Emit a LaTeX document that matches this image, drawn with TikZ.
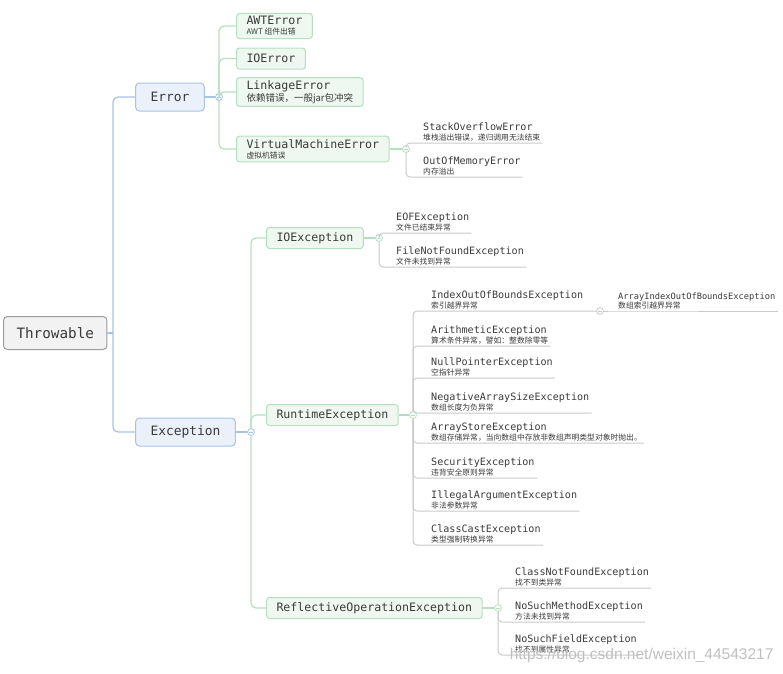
\documentclass[tikz,border=0pt]{standalone}
\usepackage{fontspec}
\usepackage{xcolor}
\usepackage{tikz}
\setmonofont{DejaVu Sans Mono}
\newfontfamily\cjk{Noto Sans CJK SC}
\newfontfamily\wmfont{Liberation Sans}

\definecolor{txt}{HTML}{3A3A3A}
\definecolor{rootbg}{HTML}{F2F2F2}
\definecolor{rootbd}{HTML}{9C9C9C}
\definecolor{bluebg}{HTML}{EAF1FB}
\definecolor{bluebd}{HTML}{A6C3E8}
\definecolor{greenbg}{HTML}{EEF7F0}
\definecolor{greenbd}{HTML}{B5DFC0}
\definecolor{leafln}{HTML}{CACACA}

\newcommand{\zhs}[1]{{\cjk\fontsize{7.8}{9}\selectfont #1}}
\newcommand{\zhl}[1]{{\cjk\fontsize{9.5}{11}\selectfont #1}}

\tikzset{
  rootbox/.style={draw=rootbd, fill=rootbg, rounded corners=4pt, line width=1pt,
    font=\ttfamily\fontsize{14.3}{16}\selectfont, text=txt,
    inner xsep=13pt, minimum height=33pt, anchor=west},
  mainbox/.style={draw=bluebd, fill=bluebg, rounded corners=4pt, line width=1pt,
    font=\ttfamily\fontsize{12.9}{15}\selectfont, text=txt,
    inner xsep=15pt, minimum height=28pt, anchor=west},
  subbox/.style={draw=greenbd, fill=greenbg, rounded corners=3pt, line width=1pt,
    font=\ttfamily\fontsize{11.6}{10}\selectfont, text=txt, align=left,
    inner xsep=10pt, inner ysep=3pt, minimum height=21pt, anchor=west},
  leaf/.style={font=\ttfamily\fontsize{10.1}{10}\selectfont, text=txt, align=left,
    inner xsep=2pt, inner ysep=1.5pt, anchor=south west},
  leafsm/.style={leaf, font=\ttfamily\fontsize{8.7}{9.5}\selectfont},
  fold/.style={circle, draw=#1, fill=white, line width=0.8pt, minimum size=7pt,
    inner sep=0pt, path picture={\draw[#1, line width=0.7pt]
      ([xshift=-1.8pt]path picture bounding box.center) --
      ([xshift=1.8pt]path picture bounding box.center);}},
  blueln/.style={draw=bluebd, line width=1.3pt, rounded corners=5pt},
  greenln/.style={draw=greenbd, line width=1.2pt, rounded corners=5pt},
  grayln/.style={draw=leafln, line width=1pt, rounded corners=4pt},
}

\begin{document}
\begin{tikzpicture}[x=1pt,y=-1pt]
\useasboundingbox (0,0) rectangle (783,673);

% Root and first level
\node[rootbox] (throwable) at (3,333) {Throwable};
\node[mainbox] (error) at (135,97) {Error};
\node[mainbox] (exception) at (135,432) {Exception};
\coordinate (rj) at (113,333);
\draw[blueln] (throwable.east) -- (rj);
\draw[blueln] (rj) |- (error.west);
\draw[blueln] (rj) |- (exception.west);

% Error branch
\node[fold=bluebd] (efold) at (219,97) {};
\draw[blueln] (error.east) -- (efold);
\node[subbox] (awt) at (236,26) {AWTError\\\zhs{AWT 组件出错}};
\node[subbox] (ioerr) at (236,58.5) {IOError};
\node[subbox] (link) at (236,92) {LinkageError\\\zhl{依赖错误，一般jar包冲突}};
\node[subbox] (vme) at (236,149) {VirtualMachineError\\\zhs{虚拟机错误}};
\foreach \nd in {awt,ioerr,link,vme}
  \draw[greenln] (efold) |- (\nd.west);

\node[fold=greenbd] (vfold) at (406,149) {};
\draw[greenln] (vme.east) -- (vfold);
\node[leaf] (sof) at (421,143) {StackOverflowError\\\zhs{堆栈溢出错误，递归调用无法结束}};
\node[leaf] (oom) at (421,177) {OutOfMemoryError\\\zhs{内存溢出}};
\foreach \nd in {sof,oom}
  \draw[grayln] (vfold) |- (\nd.south west) -- (\nd.south east);

% Exception branch
\node[fold=bluebd] (xfold) at (251,432) {};
\draw[blueln] (exception.east) -- (xfold);
\node[subbox] (ioex) at (266,238) {IOException};
\node[subbox] (rte) at (266,415) {RuntimeException};
\node[subbox] (roe) at (266,608) {ReflectiveOperationException};
\foreach \nd in {ioex,rte,roe}
  \draw[greenln] (xfold) |- (\nd.west);

% IOException
\node[fold=greenbd] (iofold) at (379,238) {};
\draw[greenln] (ioex.east) -- (iofold);
\node[leaf] (eof) at (394,233) {EOFException\\\zhs{文件已结束异常}};
\node[leaf] (fnf) at (394,267) {FileNotFoundException\\\zhs{文件未找到异常}};
\foreach \nd in {eof,fnf}
  \draw[grayln] (iofold) |- (\nd.south west) -- (\nd.south east);

% RuntimeException
\node[fold=greenbd] (rfold) at (413,415) {};
\draw[greenln] (rte.east) -- (rfold);
\node[leaf] (iob) at (429,311) {IndexOutOfBoundsException\\\zhs{索引越界异常}};
\node[fold=leafln] (iobfold) at (600,311) {};
\node[leafsm] (aiob) at (616,311) {ArrayIndexOutOfBoundsException\\\zhs{数组索引越界异常}};
\draw[grayln] (rfold) |- (iob.south west) -- (iobfold);
\draw[grayln] (iobfold) -- (aiob.south west) -- (aiob.south east);
\foreach \nd/\y/\nm/\zh in {
    ari/346/ArithmeticException/算术条件异常，譬如：整数除零等,
    npe/378/NullPointerException/空指针异常,
    nas/413/NegativeArraySizeException/数组长度为负异常,
    ase/443/ArrayStoreException/数组存储异常，当向数组中存放非数组声明类型对象时抛出。,
    sec/478/SecurityException/违背安全原则异常,
    iae/511/IllegalArgumentException/非法参数异常,
    cce/545/ClassCastException/类型强制转换异常} {
  \node[leaf] (\nd) at (429,\y) {\nm\\\zhs{\zh}};
  \draw[grayln] (rfold) |- (\nd.south west) -- (\nd.south east);
}

% ReflectiveOperationException
\node[fold=greenbd] (ofold) at (498,608) {};
\draw[greenln] (roe.east) -- (ofold);
\node[leaf] (cnf) at (513,588) {ClassNotFoundException\\\zhs{找不到类异常}};
\node[leaf] (nsm) at (513,622) {NoSuchMethodException\\\zhs{方法未找到异常}};
\node[leaf] (nsf) at (513,655) {NoSuchFieldException\\\zhs{找不到属性异常}};
\foreach \nd in {cnf,nsm,nsf}
  \draw[grayln] (ofold) |- (\nd.south west) -- (\nd.south east);

% Watermark
\node[anchor=east, font=\wmfont\fontsize{15.5}{17}\selectfont, text=black!25]
  (mark) at (777,655) {https://blog.csdn.net/weixin\_44543217};

\end{tikzpicture}
\end{document}
